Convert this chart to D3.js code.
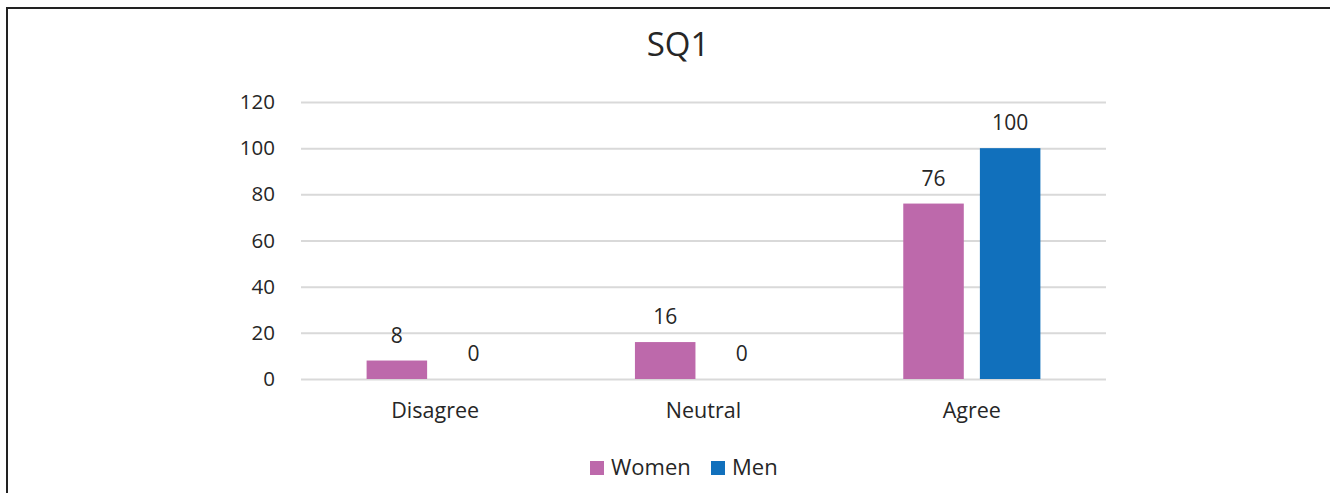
<!DOCTYPE html>
<html><head><meta charset="utf-8">
<script src="https://cdn.jsdelivr.net/npm/d3@7"></script>
<style>body{margin:0;background:#fff;} text{font-family:"Open Sans","Noto Sans",sans-serif;fill:#262626;}</style>
</head><body>
<svg id="c" width="1330" height="493"></svg>
<script>
const categories = ["Disagree", "Neutral", "Agree"];
const seriesNames = ["Women", "Men"];
const women = [8, 16, 76];
const men = [0, 0, 100];
const yTicks = [0, 20, 40, 60, 80, 100, 120];
const colors = ["#BD69AB", "#1170BC"];

(function () {
const svg = d3.select("#c");
svg.append("rect").attr("x", 7).attr("y", 8).attr("width", 1340).attr("height", 500)
  .attr("fill", "none").attr("stroke", "#222").attr("stroke-width", 2);

const mLeft = 301, mRight = 1106, mTop = 102, mBottom = 379;
const y = d3.scaleLinear().domain([0, 120]).range([mBottom, mTop]);
const x0 = d3.scaleBand().domain(categories).range([mLeft, mRight]).paddingInner(0).paddingOuter(0);
const bw = x0.bandwidth();
const x1 = d3.scaleBand().domain(seriesNames).range([65.6, bw - 65.6]).paddingInner(0.21);

svg.append("text").attr("x", 678).attr("y", 56).attr("text-anchor", "middle")
  .style("font-size", "33px").text("SQ1");

const yAxis = svg.append("g").attr("transform", `translate(${mLeft},0)`)
  .call(d3.axisLeft(y).tickValues(yTicks).tickSize(-(mRight - mLeft)).tickPadding(26));
yAxis.select(".domain").remove();
yAxis.selectAll(".tick line").attr("stroke", "#d9d9d9").attr("stroke-width", 2);
yAxis.selectAll(".tick text").style("font-size", "20.5px").attr("fill", "#262626")
  .style("font-family", "'Open Sans','Noto Sans',sans-serif");

const xAxis = svg.append("g").attr("transform", `translate(0,${mBottom})`)
  .call(d3.axisBottom(x0).tickSize(0).tickPadding(24));
xAxis.select(".domain").remove();
xAxis.selectAll(".tick text").style("font-size", "21.5px").attr("fill", "#262626")
  .style("font-family", "'Open Sans','Noto Sans',sans-serif");

const data = categories.map((c, i) => ({c, vals: [women[i], men[i]]}));
const g = svg.append("g").selectAll("g").data(data).join("g")
  .attr("transform", d => `translate(${x0(d.c)},0)`);
g.selectAll("rect").data(d => d.vals.map((v, j) => ({v, s: seriesNames[j], j})))
  .join("rect").attr("x", d => x1(d.s)).attr("width", x1.bandwidth())
  .attr("y", d => y(d.v)).attr("height", d => y(0) - y(d.v)).attr("fill", d => colors[d.j]);
g.selectAll("text.lbl").data(d => d.vals.map((v, j) => ({v, s: seriesNames[j]})))
  .join("text").attr("class", "lbl").attr("x", d => x1(d.s) + x1.bandwidth() / 2)
  .attr("y", d => y(d.v) - 18).attr("text-anchor", "middle").style("font-size", "21px")
  .text(d => d.v);

const leg = svg.append("g");
const legX = [590, 711];
seriesNames.forEach((s, i) => {
  leg.append("rect").attr("x", legX[i]).attr("y", 461).attr("width", 14).attr("height", 14).attr("fill", colors[i]);
  leg.append("text").attr("x", legX[i] + 21).attr("y", 475).style("font-size", "22px").text(s);
});
})();
</script>
</body></html>
